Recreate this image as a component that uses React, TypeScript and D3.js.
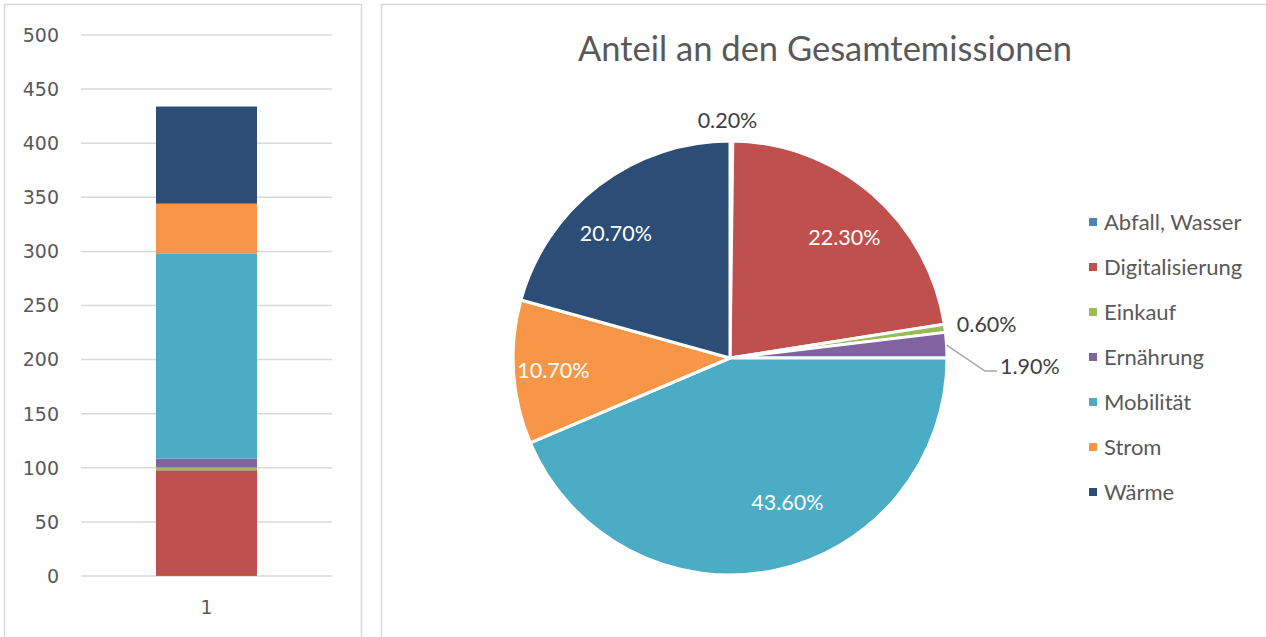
import React from "react";
import * as d3 from "d3";

const categories = ["Abfall, Wasser", "Digitalisierung", "Einkauf", "Ernährung", "Mobilität", "Strom", "Wärme"];
const values = [0.9, 96.8, 2.6, 8.2, 189.2, 46.4, 89.8];
const colors = ["#4F81BD", "#C0504D", "#9BBB59", "#8064A2", "#4BACC6", "#F79646", "#2C4D75"];
const yTicks = [0, 50, 100, 150, 200, 250, 300, 350, 400, 450, 500];
const barCategory = ["1"];
const title = "Anteil an den Gesamtemissionen";

// label nudges (style only), in px, relative to the computed in-slice position
const labelNudge: [number, number][] = [[0, 0], [5, 6], [0, 0], [0, 0], [24, -19], [-10, 1], [-13, 8]];

const W = 1266;
const H = 637;
const GREY = "#595959";
const FONT = "Lato, 'Open Sans', sans-serif";
const AXFONT = "'DejaVu Sans', Verdana, sans-serif";

export default function App() {
  const y = d3.scaleLinear().domain([0, 500]).range([576, 35]);
  const x = d3.scaleBand().domain(barCategory).range([81, 332]).padding(0.426);
  const stacked: { key: string; y0: number; y1: number; color: string }[] = [];
  let acc = 0;
  values.forEach((v, i) => {
    stacked.push({ key: categories[i], y0: acc, y1: acc + v, color: colors[i] });
    acc += v;
  });
  const total = acc;

  const cx = 730, cy = 358, r = 217;
  const pie = d3.pie<number>().sort(null).value((d) => d);
  const arcs = pie(values);
  const arc = d3.arc<d3.PieArcDatum<number>>().innerRadius(0).outerRadius(r);
  const pct = values.map((v) => (Math.round((v / total) * 1000) / 10).toFixed(2) + "%");

  return (
    <svg width={W} height={H} style={{ position: "absolute", left: 0, top: 0, background: "#fff" }}>
      <rect x={4.5} y={4.5} width={357} height={H + 10} fill="#fff" stroke="#d9d9d9" strokeWidth={1.5} />
      <rect x={381.5} y={4.5} width={W} height={H + 10} fill="#fff" stroke="#d9d9d9" strokeWidth={1.5} />

      {yTicks.map((t) => (
        <g key={t}>
          <line x1={81} x2={332} y1={y(t)} y2={y(t)} stroke="#d9d9d9" strokeWidth={1.5} />
          <text x={59} y={y(t)} dy="0.36em" textAnchor="end" fontFamily={AXFONT} fontSize={19} fill={GREY}>
            {t}
          </text>
        </g>
      ))}
      {stacked.map((s) => (
        <rect key={s.key} x={x("1")} width={x.bandwidth()} y={y(s.y1)} height={y(s.y0) - y(s.y1)} fill={s.color} />
      ))}
      <text x={(x("1") as number) + x.bandwidth() / 2} y={607} dy="0.36em" textAnchor="middle" fontFamily={AXFONT} fontSize={19} fill={GREY}>
        {barCategory[0]}
      </text>

      <text x={825} y={49} dy="0.36em" textAnchor="middle" fontFamily={FONT} fontSize={34.5} fill={GREY}>
        {title}
      </text>

      <g transform={`translate(${cx},${cy})`}>
        {arcs.map((a, i) => (
          <path key={categories[i]} d={arc(a) as string} fill={colors[i]} stroke="#fff" strokeWidth={3} strokeLinejoin="round" />
        ))}
        {arcs.map((a, i) => {
          const mid = (a.startAngle + a.endAngle) / 2;
          const sx = Math.sin(mid), sy = -Math.cos(mid);
          const share = values[i] / total;
          if (share > 0.05) {
            const rr = r * 0.77;
            return (
              <text key={"l" + i} x={rr * sx + labelNudge[i][0]} y={rr * sy + labelNudge[i][1]} dy="0.36em" textAnchor="middle" fontFamily={FONT} fontSize={21.5} fill="#fff">
                {pct[i]}
              </text>
            );
          }
          if (i === 3) {
            const p0 = [r * sx, r * sy];
            const p1 = [r + 38, 13];
            const p2 = [r + 50, 13];
            return (
              <g key={"l" + i}>
                <polyline points={`${p0[0]},${p0[1]} ${p1[0]},${p1[1]} ${p2[0]},${p2[1]}`} fill="none" stroke="#a6a6a6" strokeWidth={1.5} />
                <text x={p2[0] + 3} y={8} dy="0.36em" textAnchor="start" fontFamily={FONT} fontSize={21.5} fill="#404040">
                  {pct[i]}
                </text>
              </g>
            );
          }
          const rr = r + 12;
          const anchor = Math.abs(sx) < 0.3 ? "middle" : sx > 0 ? "start" : "end";
          const yy = Math.abs(sx) < 0.3 ? rr * sy - 9 : rr * sy - 2;
          return (
            <text key={"l" + i} x={rr * sx - (anchor === "middle" ? 4 : 0)} y={yy} dy="0.36em" textAnchor={anchor} fontFamily={FONT} fontSize={21.5} fill="#404040">
              {pct[i]}
            </text>
          );
        })}
      </g>

      {categories.map((c, i) => (
        <g key={c} transform={`translate(1089,${222 + i * 45})`}>
          <rect x={0} y={-4} width={8} height={8} fill={colors[i]} />
          <text x={15} y={0} dy="0.36em" fontFamily={FONT} fontSize={22} fill={GREY}>
            {c}
          </text>
        </g>
      ))}
    </svg>
  );
}
